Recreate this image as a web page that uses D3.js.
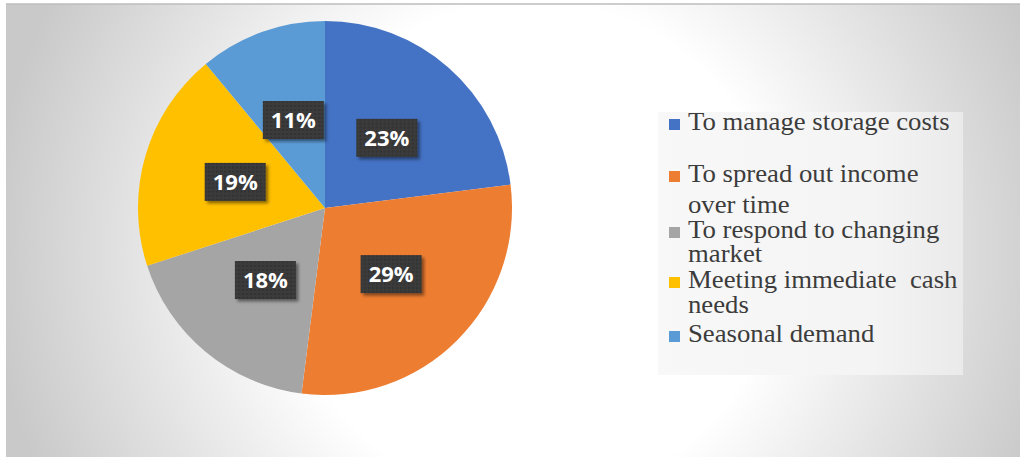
<!DOCTYPE html>
<html>
<head>
<meta charset="utf-8">
<script src="https://cdn.jsdelivr.net/npm/d3@7"></script>
<style>
  html, body { margin: 0; padding: 0; background: #ffffff; }
  svg { display: block; }
</style>
</head>
<body>
<svg id="chart" width="1020" height="461"></svg>
<script>
// ---- data ----
const categories = ["To manage storage costs", "To spread out income over time", "To respond to changing market", "Meeting immediate  cash needs", "Seasonal demand"];
const values = [23, 29, 18, 19, 11];
const labels = ["23%", "29%", "18%", "19%", "11%"];
const legendLines = [
  ["To manage storage costs"],
  ["To spread out income", "over time"],
  ["To respond to changing", "market"],
  ["Meeting immediate  cash", "needs"],
  ["Seasonal demand"]
];
const colors = ["#4472C4", "#ED7D31", "#A5A5A5", "#FFC000", "#5B9BD5"];

// ---- drawing ----
const svg = d3.select("#chart");
const defs = svg.append("defs");

const bg = defs.append("radialGradient").attr("id", "bgGrad")
  .attr("gradientUnits", "userSpaceOnUse")
  .attr("cx", 530).attr("cy", 250).attr("r", 540);
bg.append("stop").attr("offset", 0).attr("stop-color", "#ffffff");
bg.append("stop").attr("offset", 0.46).attr("stop-color", "#ffffff");
bg.append("stop").attr("offset", 1).attr("stop-color", "#c9c9c9");

const lg = defs.append("linearGradient").attr("id", "legGrad")
  .attr("x1", 0).attr("x2", 1).attr("y1", 0).attr("y2", 0);
lg.append("stop").attr("offset", 0).attr("stop-color", "#f8f8f8");
lg.append("stop").attr("offset", 0.7).attr("stop-color", "#f4f4f4");
lg.append("stop").attr("offset", 1).attr("stop-color", "#eaeaea");

const pat = defs.append("pattern").attr("id", "dots")
  .attr("patternUnits", "userSpaceOnUse").attr("width", 4).attr("height", 4);
pat.append("rect").attr("width", 4).attr("height", 4).attr("fill", "#3a3a3a");
pat.append("rect").attr("x", 1).attr("y", 1).attr("width", 1.5).attr("height", 1.5).attr("fill", "#2e2e2e");

const sh = defs.append("filter").attr("id", "shadow")
  .attr("x", "-20%").attr("y", "-20%").attr("width", "150%").attr("height", "160%");
sh.append("feDropShadow").attr("dx", 2.5).attr("dy", 2.5).attr("stdDeviation", 1.8)
  .attr("flood-color", "#000").attr("flood-opacity", 0.45);

// frame background
svg.append("rect").attr("x", 6).attr("y", 4).attr("width", 1014).attr("height", 453)
  .attr("fill", "url(#bgGrad)");
svg.append("line").attr("x1", 6).attr("x2", 1020).attr("y1", 4).attr("y2", 4)
  .attr("stroke", "#bdbdbd").attr("stroke-width", 1.5);

// pie
const cx = 325, cy = 208, R = 187;
const pie = d3.pie().sort(null).value(d => d)(values);
const arc = d3.arc().innerRadius(0).outerRadius(R);
const g = svg.append("g").attr("transform", `translate(${cx},${cy})`);
g.selectAll("path.slice").data(pie).join("path")
  .attr("class", "slice")
  .attr("d", arc)
  .attr("fill", (d, i) => colors[i]);

// data labels
const bw = 61, bh = 38;
const lab = g.selectAll("g.lab").data(pie).join("g")
  .attr("class", "lab")
  .attr("transform", d => { const c = arc.centroid(d); return `translate(${c[0]},${c[1]})`; });
lab.append("rect")
  .attr("x", -bw / 2).attr("y", -bh / 2).attr("width", bw).attr("height", bh)
  .attr("fill", "url(#dots)")
  .attr("filter", "url(#shadow)");
lab.append("text")
  .attr("text-anchor", "middle")
  .attr("dy", "0.36em")
  .attr("font-family", "'Open Sans', sans-serif")
  .attr("font-weight", 700)
  .attr("font-size", 22)
  .attr("fill", "#ffffff")
  .text((d, i) => labels[i]);

// legend
svg.append("rect").attr("x", 658).attr("y", 112).attr("width", 305).attr("height", 263)
  .attr("fill", "url(#legGrad)");
const firstBaseline = [130, 182, 238, 288, 342];
const lineGap = [0, 31, 24, 25, 0];
const leg = svg.append("g");
categories.forEach((c, i) => {
  const y0 = firstBaseline[i];
  leg.append("rect").attr("x", 669).attr("y", y0 - 11).attr("width", 11).attr("height", 11)
    .attr("fill", colors[i]);
  const t = leg.append("text")
    .attr("font-family", "'Liberation Serif', 'Times New Roman', serif")
    .attr("font-size", 25)
    .attr("fill", "#3c3c3c")
    .attr("transform", "translate(688,0) scale(1.07,1)")
    .style("white-space", "pre");
  legendLines[i].forEach((ln, j) => {
    t.append("tspan").attr("x", 0).attr("y", y0 + j * lineGap[i]).text(ln);
  });
});
</script>
</body>
</html>
